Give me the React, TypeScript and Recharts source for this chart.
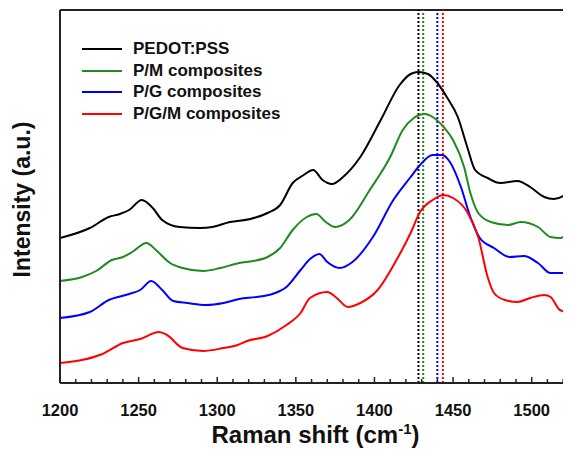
import { LineChart, Line, XAxis, YAxis, ReferenceLine } from 'recharts';

// Raman spectra, intensity in arbitrary units (curves offset vertically)
const pedotShift = [1200, 1219, 1231, 1238, 1244, 1252, 1259, 1265, 1276, 1289, 1297, 1308, 1321, 1332, 1340, 1348, 1355, 1361, 1367, 1373, 1380, 1391, 1404, 1416, 1423, 1428, 1434, 1440, 1446, 1453, 1459, 1464, 1472, 1480, 1491, 1499, 1508, 1514, 1521, 1526];
const pedotIntensity = [145, 155, 166, 169, 173, 183, 175, 163, 156, 155, 156, 161, 164, 170, 178, 200, 208, 213, 203, 199, 206, 226, 263, 298, 309, 311, 309, 300, 286, 266, 236, 213, 205, 200, 202, 196, 186, 184, 188, 196];

const pmShift = [1200, 1214, 1223, 1233, 1240, 1246, 1255, 1261, 1270, 1278, 1291, 1302, 1314, 1323, 1332, 1340, 1348, 1357, 1363, 1369, 1375, 1384, 1397, 1410, 1418, 1425, 1432, 1437, 1444, 1450, 1457, 1461, 1466, 1474, 1485, 1493, 1504, 1512, 1518, 1525];
const pmIntensity = [102, 106, 112, 123, 126, 131, 140, 133, 120, 115, 112, 115, 120, 122, 126, 135, 153, 166, 169, 161, 156, 163, 193, 226, 253, 265, 269, 266, 256, 243, 216, 190, 170, 161, 158, 161, 156, 146, 145, 153];

const pgShift = [1200, 1219, 1231, 1244, 1251, 1258, 1265, 1272, 1281, 1293, 1304, 1314, 1325, 1335, 1344, 1353, 1359, 1365, 1370, 1378, 1386, 1399, 1412, 1423, 1429, 1437, 1443, 1448, 1455, 1461, 1467, 1476, 1486, 1495, 1504, 1512, 1520, 1525];
const pgIntensity = [65, 71, 83, 89, 93, 102, 93, 82, 80, 78, 80, 84, 86, 89, 96, 113, 124, 129, 121, 115, 121, 146, 183, 206, 218, 228, 228, 221, 196, 166, 145, 135, 126, 127, 120, 110, 110, 116];

const pgmShift = [1200, 1214, 1227, 1240, 1251, 1263, 1268, 1278, 1291, 1304, 1313, 1319, 1332, 1344, 1353, 1359, 1370, 1376, 1383, 1391, 1402, 1414, 1423, 1429, 1437, 1444, 1450, 1459, 1466, 1472, 1476, 1483, 1491, 1499, 1508, 1512, 1518, 1525];
const pgmIntensity = [20, 23, 29, 40, 44, 51, 48, 35, 32, 35, 38, 42, 47, 58, 70, 85, 91, 85, 76, 80, 93, 123, 150, 171, 183, 188, 185, 171, 146, 106, 90, 83, 81, 85, 88, 86, 73, 70];

const seriesNames = ['PEDOT:PSS', 'P/M composites', 'P/G composites', 'P/G/M composites'];
const seriesColors = ['#000000', '#1f8a1f', '#0000ff', '#ff0000'];
const peakPositions = [1428, 1431, 1440, 1443.5];

const shiftTicks = [1200, 1210, 1220, 1230, 1240, 1250, 1260, 1270, 1280, 1290, 1300, 1310, 1320, 1330, 1340, 1350, 1360, 1370, 1380, 1390, 1400, 1410, 1420, 1430, 1440, 1450, 1460, 1470, 1480, 1490, 1500, 1510, 1520];

const zip = (xs: number[], ys: number[]) => xs.map((x, i) => ({ shift: x, intensity: ys[i] }));
const series = [
  zip(pedotShift, pedotIntensity),
  zip(pmShift, pmIntensity),
  zip(pgShift, pgIntensity),
  zip(pgmShift, pgmIntensity),
];

const FONT = '"Liberation Sans", Arial, sans-serif';
const AXIS = '#222';

function ShiftTick({ x, y, payload }: any) {
  const major = payload.value % 50 === 0;
  return (
    <g>
      <line x1={x} x2={x} y1={y} y2={y - (major ? 6 : 4)} stroke={AXIS} strokeWidth={1.5} />
      {major && (
        <text x={x} y={y + 33} textAnchor="middle" fontSize={16.5} fontWeight={700} fill="#111" fontFamily={FONT}>
          {payload.value}
        </text>
      )}
    </g>
  );
}

function XTitle({ viewBox }: any) {
  const cx = viewBox.x + viewBox.width / 2;
  return (
    <text x={cx} y={viewBox.y + 60} textAnchor="middle" fontSize={24} fontWeight={700} fill="#111" fontFamily={FONT}>
      Raman shift (cm
      <tspan dy={-9} fontSize={15}>-1</tspan>
      <tspan dy={9}>)</tspan>
    </text>
  );
}

function YTitle({ viewBox }: any) {
  const cy = viewBox.y + viewBox.height / 2 + 3;
  const cx = 14;
  return (
    <text x={cx} y={cy} transform={`rotate(-90 ${cx} ${cy})`} textAnchor="middle" dominantBaseline="central"
      fontSize={23} fontWeight={700} fill="#111" fontFamily={FONT}>
      Intensity (a.u.)
    </text>
  );
}

export default function App() {
  return (
    <div style={{ position: 'relative', width: 563, height: 454, fontFamily: FONT }}>
      <LineChart width={563} height={454} margin={{ top: 2, right: 0, left: 0, bottom: 0 }}>
        <XAxis
          type="number"
          dataKey="shift"
          domain={[1200, 1525]}
          allowDataOverflow
          ticks={shiftTicks}
          interval={0}
          tickSize={0}
          tickMargin={0}
          tick={<ShiftTick />}
          axisLine={{ stroke: AXIS, strokeWidth: 2 }}
          height={79}
          label={<XTitle />}
        />
        <YAxis
          type="number"
          domain={[0, 373]}
          allowDataOverflow
          tick={false}
          tickLine={false}
          axisLine={{ stroke: AXIS, strokeWidth: 2 }}
          width={52}
          label={<YTitle />}
        />
        <ReferenceLine y={373} stroke={AXIS} strokeWidth={2} ifOverflow="visible" />
        {peakPositions.map((p, i) => (
          <ReferenceLine key={p} x={p} stroke={seriesColors[i]} strokeWidth={2} strokeDasharray="2 2" />
        ))}
        {series.map((d, i) => (
          <Line
            key={seriesNames[i]}
            data={d}
            dataKey="intensity"
            type="monotone"
            stroke={seriesColors[i]}
            strokeWidth={2}
            dot={false}
            isAnimationActive={false}
          />
        ))}
      </LineChart>
      <div style={{ position: 'absolute', left: 74, top: 30 }}>
        {seriesNames.map((n, i) => (
          <div key={n} style={{ display: 'flex', alignItems: 'center', height: 21.7 }}>
            <div style={{ width: 40, height: 2, background: seriesColors[i], marginRight: 11 }} />
            <span style={{ fontSize: 17, fontWeight: 700, color: '#111', lineHeight: '21.7px' }}>{n}</span>
          </div>
        ))}
      </div>
    </div>
  );
}
